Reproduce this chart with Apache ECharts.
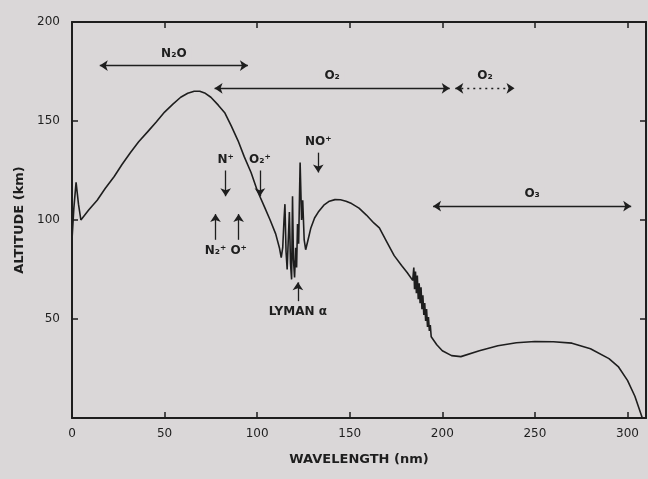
<!DOCTYPE html>
<html>
<head>
<meta charset="utf-8">
<script src="https://cdn.jsdelivr.net/npm/echarts@6/dist/echarts.min.js"></script>
<style>
  html, body { margin: 0; padding: 0; background: #dad7d8; }
  #chart { width: 648px; height: 479px; }
</style>
</head>
<body>
<div id="chart"></div>
<script>
// wavelength (nm) and altitude (km)
var wavelength = [0, 1, 2.2, 3.5, 4.8, 9, 13.6, 18, 22.8, 27, 31.5, 36, 40.8, 45.5, 50, 54.5, 58.7, 62.5, 66, 69, 72, 75, 79, 82.6, 86, 89.7, 93, 96.7, 100, 104, 107, 110, 112, 113,
  113.8, 114.5, 115, 115.6, 116.2, 116.8, 117.4, 118, 118.6, 119.1, 119.6, 120.2, 120.8, 121.3, 121.8, 122.4, 123.2, 124, 124.6, 125.4, 126.2,
  127.5, 129, 131, 133, 136, 139, 142, 145, 148, 151, 155, 159, 163, 166, 170, 174, 178, 181, 184,
  184.6, 185, 185.5, 186, 186.5, 187, 187.5, 188, 188.5, 189, 189.5, 190, 190.5, 191, 191.5, 192, 192.5, 193, 193.5, 194, 195, 197, 200, 205, 210,
  220, 230, 240, 250, 260, 270, 280, 290, 295, 300, 304, 308]
var altitude = [90, 106, 119, 108, 100, 105, 110, 116, 122, 128, 134, 139.5, 144.5, 149.5, 154.5, 158.5, 162, 164, 165, 165, 164, 162, 158, 154, 147.5, 140, 132, 124, 115, 106.5, 100, 93, 86, 81,
  86, 100, 108, 84, 75, 90, 104, 78, 70, 112, 80, 71, 86, 76, 98, 88, 129, 100, 110, 90, 85,
  90, 96, 101, 104, 107.5, 109.5, 110.3, 110.2, 109.5, 108.3, 106, 102.5, 98.5, 96, 89, 82, 77, 73.5, 69.5,
  76, 65, 74, 63, 72, 60, 68, 58, 66, 55, 62, 52, 58, 49, 55, 46, 51, 44, 47, 41, 41, 37, 34, 31.5, 31,
  34, 36.5, 38, 38.6, 38.5, 37.8, 35, 30, 26, 19, 11, 0]

var xTicks = [0, 50, 100, 150, 200, 250, 300]
var yTicks = [50, 100, 150, 200]

// horizontal range arrows: [from, to, altitude, label, dashed]
var rangeArrows = [
  [15, 95, 178, 'N₂O', false],
  [77, 204, 166.5, 'O₂', false],
  [207, 239, 166.5, 'O₂', true],
  [-1, 23, 135, 'AIR', false],
  [195, 302, 107, 'O₃', false]
]
// vertical ion arrows: [wavelength, from alt, to alt, label]
var ionArrows = [
  [83, 125, 112, 'N⁺'],
  [101.5, 125, 112, 'O₂⁺'],
  [133, 134, 124, 'NO⁺'],
  [77.5, 90, 103, 'N₂⁺'],
  [90, 90, 103, 'O⁺'],
  [122, 59, 68.5, 'LYMAN α']
]

var ink = '#1e1e1e'
var font = 'DejaVu Sans'

var lineData = wavelength.map(function (w, i) { return [w, altitude[i]] })

var markLines = []
rangeArrows.forEach(function (a) {
  markLines.push([
    { coord: [a[0], a[2]], lineStyle: { type: a[4] ? [2, 4] : 'solid' },
      label: { formatter: a[3] } },
    { coord: [a[1], a[2]] }
  ])
})
ionArrows.forEach(function (a) {
  markLines.push([
    { coord: [a[0], a[1]], symbol: 'none',
      label: { formatter: a[3], position: 'start', backgroundColor: 'transparent', distance: 4 } },
    { coord: [a[0], a[2]], symbol: 'arrow' }
  ])
})

function frameAxis (extra) {
  return Object.assign({
    type: 'value',
    axisLine: { show: true, onZero: false, lineStyle: { color: ink, width: 2 } },
    splitLine: { show: false }
  }, extra)
}

var chart = echarts.init(document.getElementById('chart'))
chart.setOption({
  backgroundColor: '#dad7d8',
  animation: false,
  grid: { left: 72, width: 574, top: 22, bottom: 61 },
  xAxis: [frameAxis({
    min: 0, max: 310, interval: 50,
    name: 'WAVELENGTH (nm)', nameLocation: 'middle', nameGap: 35,
    nameTextStyle: { color: ink, fontFamily: font, fontSize: 13, fontWeight: 'bold' },
    axisTick: { inside: true, length: 6, customValues: xTicks, lineStyle: { color: ink, width: 1.5 } },
    axisLabel: { color: ink, fontFamily: font, fontSize: 12, margin: 10, customValues: xTicks }
  }), frameAxis({
    position: 'top', min: 0, max: 310, interval: 50,
    axisTick: { inside: true, length: 6, customValues: xTicks.slice(1), lineStyle: { color: ink, width: 1.5 } },
    axisLabel: { show: false }
  })],
  yAxis: [frameAxis({
    min: 0, max: 200, interval: 50,
    name: 'ALTITUDE (km)', nameLocation: 'middle', nameGap: 44,
    nameTextStyle: { color: ink, fontFamily: font, fontSize: 13, fontWeight: 'bold' },
    axisTick: { show: true, inside: true, length: 6, customValues: yTicks.slice(0, 3), lineStyle: { color: ink, width: 1.5 } },
    axisLabel: { color: ink, fontFamily: font, fontSize: 12, margin: 12, customValues: yTicks }
  }), frameAxis({
    position: 'right', min: 0, max: 200, interval: 50,
    axisTick: { show: true, inside: true, length: 6, customValues: yTicks.slice(0, 3), lineStyle: { color: ink, width: 1.5 } },
    axisLabel: { show: false }
  })],
  series: [{
    type: 'line',
    data: lineData,
    showSymbol: false,
    smooth: false,
    lineStyle: { color: ink, width: 1.6 },
    markLine: {
      silent: true,
      symbol: ['arrow', 'arrow'],
      symbolSize: 8,
      lineStyle: { color: ink, width: 1.3, type: 'solid' },
      label: {
        show: true, position: 'middle', color: ink,
        fontFamily: font, fontSize: 12, fontWeight: 'bold',
        backgroundColor: '#dad7d8', padding: [1, 5]
      },
      data: markLines
    }
  }]
})
</script>
</body>
</html>
